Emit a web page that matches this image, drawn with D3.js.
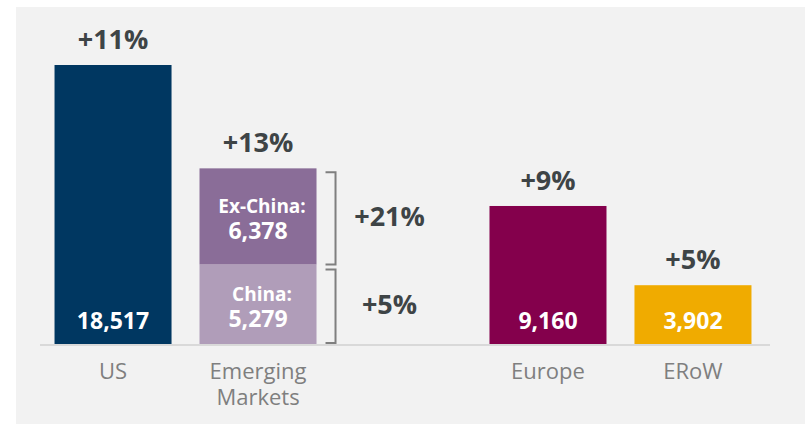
<!DOCTYPE html>
<html>
<head>
<meta charset="utf-8">
<script src="https://cdn.jsdelivr.net/npm/d3@7"></script>
<style>
  body { margin:0; background:#fff; }
  text { font-family: "Open Sans", Lato, sans-serif; }
</style>
</head>
<body>
<div id="chart"></div>
<script>
// data
let categories = ["US", "Emerging Markets", "gap", "Europe", "ERoW"],
    values     = [18517, null, null, 9160, 3902],
    growth     = ["+11%", "+13%", null, "+9%", "+5%"],
    colors     = ["#003761", null, null, "#84004c", "#f0ab00"],
    emParts    = ["China:", "Ex-China:"],
    emValues   = [5279, 6378],
    emGrowth   = ["+5%", "+21%"],
    emColors   = ["#b09db9", "#8a6d98"];

let W = 805, H = 424,
    margin = {top: 0, right: 37, left: 38, bottom: 80},
    baseY = 344;

let svg = d3.select("#chart").append("svg")
  .attr("width", W).attr("height", H);

// grey panel
svg.append("rect")
  .attr("x", 16).attr("y", 7)
  .attr("width", W - 16).attr("height", H - 7)
  .attr("fill", "#f2f2f2");

let xScale = d3.scaleBand()
  .domain(categories)
  .range([margin.left, W - margin.right])
  .paddingInner(0.193)
  .paddingOuter(0.114);

let yScale = d3.scaleLinear()
  .domain([0, 18517])
  .range([baseY, 65]);

let fmt = d3.format(",");
let bw = xScale.bandwidth();

// simple bars
let simple = categories.map((c, i) => ({c: c, v: values[i], g: growth[i], col: colors[i]}))
  .filter(d => d.v != null);

svg.selectAll(".bar").data(simple).enter().append("rect")
  .attr("class", "bar")
  .attr("x", d => xScale(d.c))
  .attr("y", d => yScale(d.v))
  .attr("width", bw)
  .attr("height", d => baseY - yScale(d.v))
  .attr("fill", d => d.col);

svg.selectAll(".val").data(simple).enter().append("text")
  .attr("x", d => xScale(d.c) + bw / 2)
  .attr("y", baseY - 15)
  .attr("text-anchor", "middle")
  .attr("fill", "#fff")
  .attr("font-weight", "bold")
  .attr("font-size", 23)
  .text(d => fmt(d.v));

svg.selectAll(".gr").data(simple).enter().append("text")
  .attr("x", d => xScale(d.c) + bw / 2)
  .attr("y", d => yScale(d.v) - 16)
  .attr("text-anchor", "middle")
  .attr("fill", "#3e4446")
  .attr("font-weight", "bold")
  .attr("font-size", 27)
  .text(d => d.g);

// stacked emerging markets
let em = categories[1];
let stack = [];
let acc = 0;
emValues.forEach((v, i) => {
  stack.push({name: emParts[i], v: v, y0: acc, y1: acc + v, g: emGrowth[i], col: emColors[i]});
  acc += v;
});

svg.selectAll(".seg").data(stack).enter().append("rect")
  .attr("x", xScale(em))
  .attr("y", d => yScale(d.y1))
  .attr("width", bw)
  .attr("height", d => yScale(d.y0) - yScale(d.y1))
  .attr("fill", d => d.col);

let segLab = svg.selectAll(".segl").data(stack).enter().append("text")
  .attr("text-anchor", "middle")
  .attr("fill", "#fff")
  .attr("font-weight", "bold");
segLab.append("tspan")
  .attr("x", xScale(em) + bw / 2 + 4)
  .attr("y", d => (yScale(d.y0) + yScale(d.y1)) / 2 - 3)
  .attr("font-size", 19)
  .text(d => d.name);
segLab.append("tspan")
  .attr("x", xScale(em) + bw / 2)
  .attr("y", d => (yScale(d.y0) + yScale(d.y1)) / 2 + 23)
  .attr("font-size", 23)
  .text(d => fmt(d.v));

svg.append("text")
  .attr("x", xScale(em) + bw / 2)
  .attr("y", yScale(acc) - 16)
  .attr("text-anchor", "middle")
  .attr("fill", "#3e4446")
  .attr("font-weight", "bold")
  .attr("font-size", 27)
  .text(growth[1]);

// brackets
let bx = xScale(em) + bw + 19;
svg.selectAll(".brk").data(stack).enter().append("path")
  .attr("fill", "none")
  .attr("stroke", "#7f7f7f")
  .attr("stroke-width", 2)
  .attr("d", (d, i) => {
    let t = yScale(d.y1) + (i == 1 ? 4 : 5), b = yScale(d.y0) - (i == 0 ? 1 : 0);
    return "M" + (bx - 10) + "," + t + "H" + bx + "V" + b + "H" + (bx - 10);
  });

svg.selectAll(".brl").data(stack).enter().append("text")
  .attr("x", bx + 54)
  .attr("y", d => (yScale(d.y0) + yScale(d.y1)) / 2 + 10)
  .attr("text-anchor", "middle")
  .attr("fill", "#3e4446")
  .attr("font-weight", "bold")
  .attr("font-size", 27)
  .text(d => d.g);

// baseline
svg.append("line")
  .attr("x1", 40).attr("x2", 770)
  .attr("y1", baseY + 1).attr("y2", baseY + 1)
  .attr("stroke", "#d9d9d9").attr("stroke-width", 2);

// category labels
let xAxis = svg.append("g");
categories.forEach(c => {
  if (c == "gap") return;
  let words = c == "Emerging Markets" ? ["Emerging", "Markets"] : [c];
  let t = xAxis.append("text")
    .attr("text-anchor", "middle")
    .attr("fill", "#7f7f7f")
    .attr("font-size", 22);
  words.forEach((w, i) => {
    t.append("tspan")
      .attr("x", xScale(c) + bw / 2)
      .attr("y", 379 + i * 26)
      .text(w);
  });
});
</script>
</body>
</html>
